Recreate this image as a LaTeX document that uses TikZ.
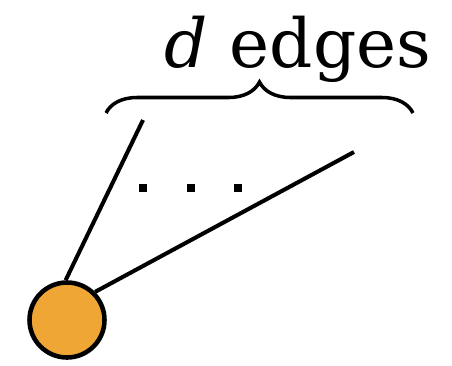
\documentclass[tikz,border=0pt]{standalone}
\usepackage{fontspec}
\setmainfont{DejaVu Serif}
\usetikzlibrary{decorations.pathreplacing}
\definecolor{vOrange}{RGB}{240,166,52}
\begin{document}
\begin{tikzpicture}[x=0.02cm,y=-0.02cm,
  vx/.style={circle,draw=black,fill=vOrange,line width=2.6pt,minimum size=1.5cm,inner sep=0pt},
  ed/.style={line width=2.3pt,black},
  br/.style={decorate,decoration={brace,amplitude=0.62cm},line width=2pt}]
\useasboundingbox (0,0) rectangle (452,365);
\node[vx] (v) at (67,320) {};
\coordinate (e1) at (143,120);
\coordinate (e2) at (354,152);
\draw[ed] (v.92) -- (e1);
\draw[ed] (v.45) -- (e2);
\foreach \x in {143,191,238} \fill (\x-4,184) rectangle (\x+4,192);
\coordinate (bl) at (106,113);
\coordinate (bre) at (413,113);
\draw[br] (bl) -- (bre);
\node[font=\fontsize{38.5}{42}\selectfont,anchor=base,inner sep=0pt] (lbl) at (298,67) {\textit{d} edges};
\end{tikzpicture}
\end{document}
